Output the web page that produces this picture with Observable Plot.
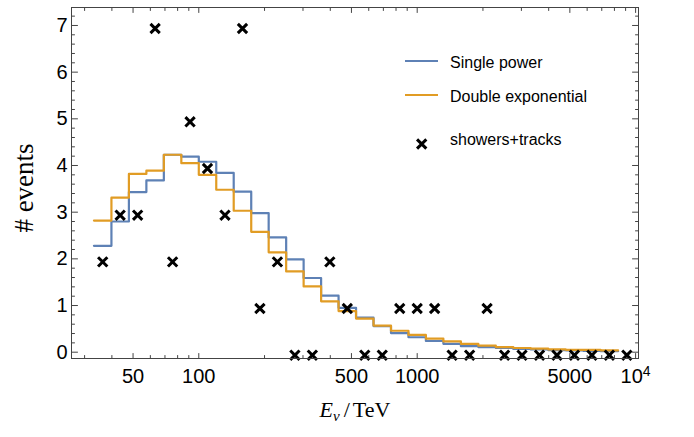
<!DOCTYPE html>
<html><head><meta charset="utf-8">
<script src="https://cdn.jsdelivr.net/npm/d3@7"></script>
<script src="https://cdn.jsdelivr.net/npm/@observablehq/plot@0.6"></script>
<style>html,body{margin:0;padding:0;background:#fff;} svg{display:block}</style>
</head><body><div id="chart"></div>
<script>
// Histogram bin edges (TeV) — 30 bins
const binEdges = [33.11, 39.81, 47.86, 57.54, 69.18, 83.18, 100, 120.2, 144.5, 173.8, 208.9, 251.2, 302.0, 363.1, 436.5, 524.8, 631.0, 758.6, 912.0, 1096, 1318, 1585, 1905, 2291, 2754, 3311, 3981, 4786, 5754, 6918, 8318];
// Expected events per bin
const singlePower = [2.28, 2.80, 3.43, 3.68, 4.23, 4.19, 4.08, 3.84, 3.44, 2.98, 2.46, 1.99, 1.59, 1.21, 0.95, 0.74, 0.56, 0.41, 0.32, 0.24, 0.18, 0.13, 0.11, 0.09, 0.07, 0.06, 0.045, 0.04, 0.03, 0.02];
const doubleExponential = [2.82, 3.31, 3.82, 3.89, 4.23, 4.05, 3.80, 3.48, 3.03, 2.58, 2.14, 1.73, 1.41, 1.09, 0.88, 0.72, 0.57, 0.46, 0.37, 0.29, 0.23, 0.18, 0.14, 0.11, 0.09, 0.075, 0.06, 0.05, 0.05, 0.04];
// Observed events (showers+tracks) at bin centres
const binCentres = [36.31, 43.65, 52.48, 63.10, 75.86, 91.20, 109.6, 131.8, 158.5, 190.5, 229.1, 275.4, 331.1, 398.1, 478.6, 575.4, 691.8, 831.8, 1000, 1202, 1445, 1738, 2089, 2512, 3020, 3631, 4365, 5248, 6310, 7586, 9120];
const observedEvents = [2, 3, 3, 7, 2, 5, 4, 3, 7, 1, 2, 0, 0, 2, 1, 0, 0, 1, 1, 1, 0, 0, 1, 0, 0, 0, 0, 0, 0, 0, 0];

const xMajorTicks = [50, 100, 500, 1000, 5000, 10000];
const xTickLabels = ["50", "100", "500", "1000", "5000", "10^4"];
const xMinorTicks = [30, 40, 60, 70, 80, 90, 200, 300, 400, 600, 700, 800, 900, 2000, 3000, 4000, 6000, 7000, 8000, 9000];
const yMajorTicks = [0, 1, 2, 3, 4, 5, 6, 7];
const yMinorTicks = [0.2,0.4,0.6,0.8,1.2,1.4,1.6,1.8,2.2,2.4,2.6,2.8,3.2,3.4,3.6,3.8,4.2,4.4,4.6,4.8,5.2,5.4,5.6,5.8,6.2,6.4,6.6,6.8,7.2];
const seriesNames = ["Single power", "Double exponential"];
const dataName = "showers+tracks";
const seriesColors = ["#5E81B5", "#E19C24"];
const xLabel = "E_ν/TeV";
const yLabel = "# events";

function stepPoints(values) {
  const pts = values.map((v, i) => ({x: binEdges[i], y: v}));
  pts.push({x: binEdges[values.length], y: values[values.length - 1]});
  return pts;
}
const observed = binCentres.map((c, i) => ({x: c, y: observedEvents[i]}));
const xTickData = xMajorTicks.map((t, i) => ({x: t, label: xTickLabels[i]}));

const tickShape = {draw(ctx, l) { ctx.moveTo(0, 0); ctx.lineTo(0, -l); }};
const frameColor = "#444";
function ticks(data, side, len) {
  const o = {frameAnchor: side, length: len, anchor: "start", shape: tickShape, stroke: frameColor, strokeWidth: 1};
  if (side === "bottom") return Plot.vector(data, {...o, x: d => d, rotate: 0});
  if (side === "top") return Plot.vector(data, {...o, x: d => d, rotate: 180});
  if (side === "left") return Plot.vector(data, {...o, y: d => d, rotate: 90});
  return Plot.vector(data, {...o, y: d => d, rotate: -90});
}

const chart = Plot.plot({
  width: 694,
  height: 437,
  marginLeft: 71,
  marginRight: 56,
  marginTop: 7,
  marginBottom: 79,
  style: {fontFamily: "'Liberation Sans', Arial, sans-serif", background: "#fff", color: "#000"},
  x: {type: "log", domain: [26.13, 10311], axis: null},
  y: {domain: [-0.135, 7.385], axis: null},
  marks: [
    ticks(xMajorTicks, "bottom", 5), ticks(xMinorTicks, "bottom", 3),
    ticks(xMajorTicks, "top", 5), ticks(xMinorTicks, "top", 3),
    ticks(yMajorTicks, "left", 6), ticks(yMinorTicks, "left", 3),
    ticks(yMajorTicks, "right", 6), ticks(yMinorTicks, "right", 3),
    Plot.line(stepPoints(singlePower), {x: "x", y: "y", curve: "step-after", stroke: seriesColors[0], strokeWidth: 2.2}),
    Plot.line(stepPoints(doubleExponential), {x: "x", y: "y", curve: "step-after", stroke: seriesColors[1], strokeWidth: 2.2}),
    Plot.dot(observed, {x: "x", y: "y", symbol: "times", r: 4.3, stroke: "#000", strokeWidth: 3, dy: 3}),
    Plot.text(xTickData, {x: "x", text: "label", frameAnchor: "bottom", lineAnchor: "top", dy: 10, fontSize: 20, fill: "#000"}),
    Plot.text(yMajorTicks, {y: d => d, text: d => String(d), frameAnchor: "left", textAnchor: "end", dx: -4, fontSize: 20, fill: "#000"}),
    Plot.frame({stroke: frameColor, strokeWidth: 1})
  ]
});
document.getElementById("chart").appendChild(chart);

const svg = d3.select(chart);
// superscript tick label
svg.selectAll("text").each(function() {
  if (this.textContent === "10^4") {
    this.textContent = "10";
    d3.select(this).append("tspan").attr("dy", "-0.45em").attr("font-size", 14).text("4");
  }
});

// Axis labels
const [base, sub] = xLabel.split("/")[0].split("_");
const xl = svg.append("text").attr("x", 355).attr("y", 417).attr("text-anchor", "middle")
  .attr("font-family", "'Liberation Serif', 'Times New Roman', serif").attr("font-size", 22).attr("fill", "#000");
xl.append("tspan").attr("font-style", "italic").text(base);
xl.append("tspan").attr("font-style", "italic").attr("font-size", 15).attr("dy", 4).text(sub);
xl.append("tspan").attr("dy", -4).attr("dx", 4).text("/");
xl.append("tspan").attr("dx", 3).text(xLabel.split("/")[1]);

svg.append("text").attr("transform", "translate(33,188) rotate(-90)").attr("text-anchor", "middle")
  .attr("font-family", "'Liberation Serif', 'Times New Roman', serif").attr("font-size", 27).attr("fill", "#000")
  .text(yLabel);

// Legend
const lg = svg.append("g").attr("font-family", "'Liberation Sans', Arial, sans-serif").attr("font-size", 16)
  .attr("fill", "#000").attr("text-anchor", "start");
const rows = [61, 95];
seriesNames.forEach((name, i) => {
  lg.append("line").attr("x1", 405).attr("x2", 438).attr("y1", rows[i]).attr("y2", rows[i])
    .attr("stroke", seriesColors[i]).attr("stroke-width", 2.2);
  lg.append("text").attr("x", 450).attr("y", rows[i] + 1).attr("dy", "0.35em").text(name);
});
lg.append("path").attr("transform", "translate(421.7,144)")
  .attr("d", d3.symbol(d3.symbolTimes, Math.PI * 4.3 * 4.3)())
  .attr("stroke", "#000").attr("stroke-width", 3).attr("fill", "none");
lg.append("text").attr("x", 450).attr("y", 139.5).attr("dy", "0.35em").text(dataName);
</script>
</body></html>
